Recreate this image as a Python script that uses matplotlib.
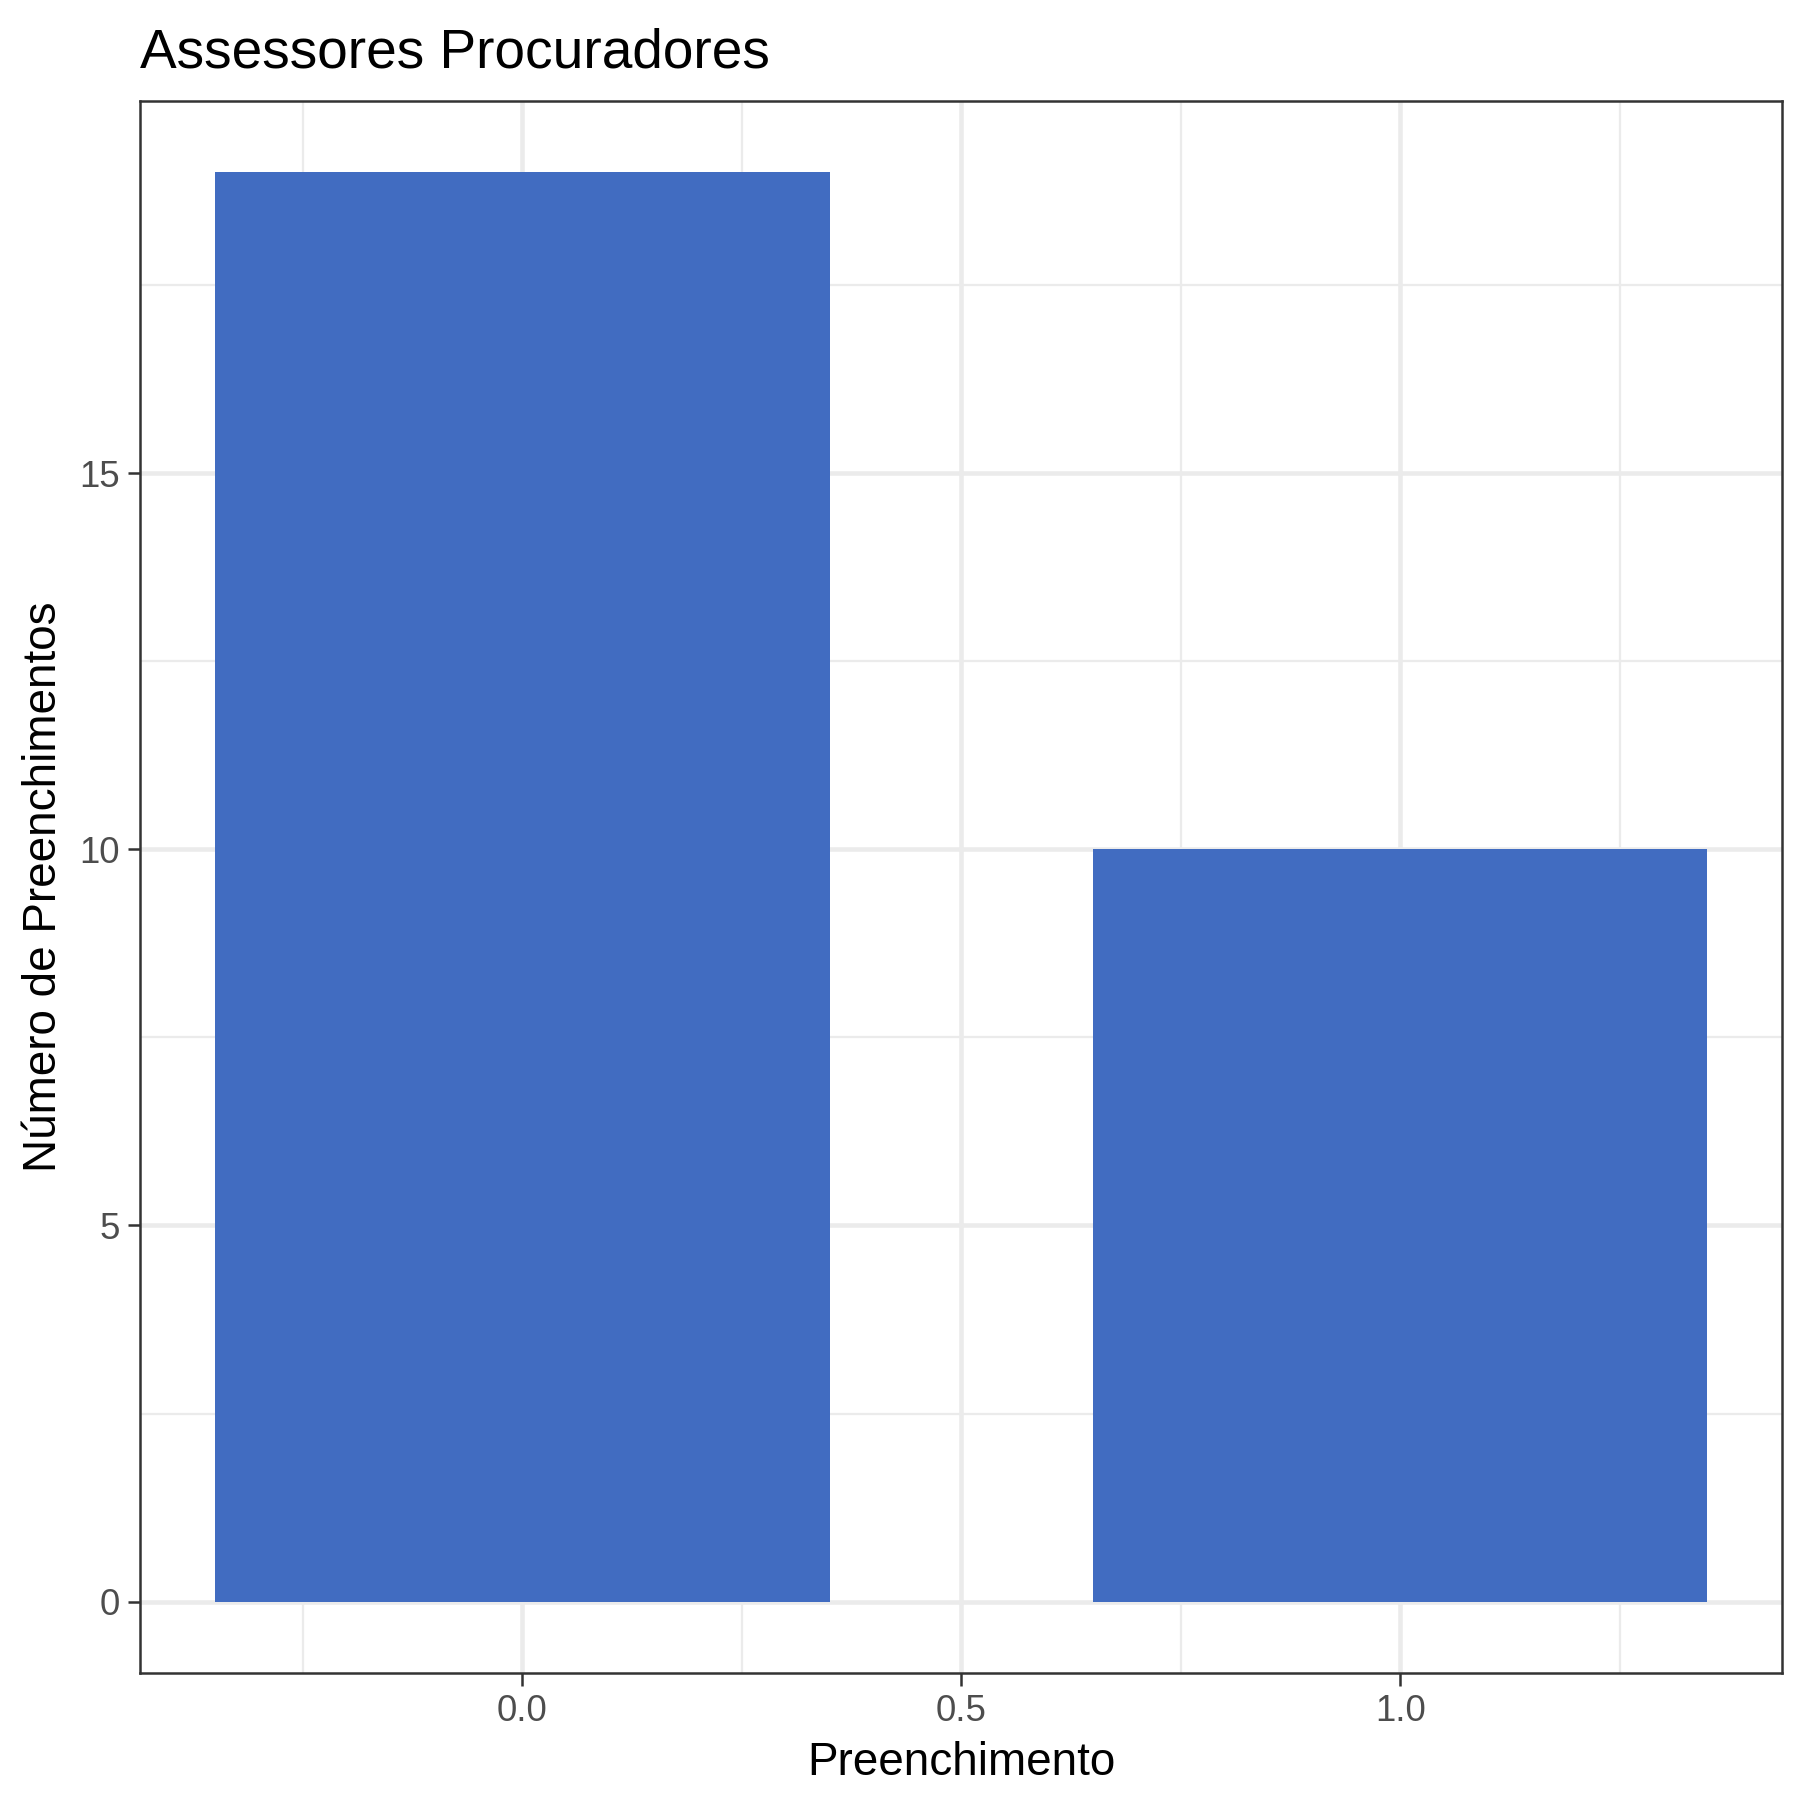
import matplotlib
matplotlib.use('Agg')
import matplotlib.pyplot as plt
import numpy as np

plt.rcParams['font.family'] = ['Liberation Sans', 'DejaVu Sans']

categories = [0, 1]
counts = [19, 10]
bar_color = '#416cc1'

fig = plt.figure(figsize=(6, 6), dpi=300)
ax = fig.add_axes([0.078, 0.0705, 0.912, 0.8735])

ax.set_axisbelow(True)
ax.bar(categories, counts, width=0.7, color=bar_color, zorder=2)

ax.set_xlim(-0.435, 1.435)
ax.set_ylim(-0.95, 19.95)
ax.set_xticks([0.0, 0.5, 1.0])
ax.set_xticklabels(['0.0', '0.5', '1.0'])
ax.set_yticks([0, 5, 10, 15])
ax.set_xticks([-0.25, 0.25, 0.75, 1.25], minor=True)
ax.set_yticks([2.5, 7.5, 12.5, 17.5], minor=True)
ax.grid(which='major', color='#ebebeb', linewidth=1.1)
ax.grid(which='minor', color='#ebebeb', linewidth=0.55)
ax.tick_params(which='major', length=3, width=0.6, color='#333333',
               labelsize=8.8, labelcolor='#4d4d4d', pad=2)
ax.tick_params(which='minor', length=0)
for s in ax.spines.values():
    s.set_color('#333333')
    s.set_linewidth(0.6)

ax.set_xlabel('Preenchimento', fontsize=11, labelpad=3)
ax.set_ylabel('Número de Preenchimentos', fontsize=11, labelpad=3)
ax.set_title('Assessores Procuradores', fontsize=13.2, loc='left', pad=8)

fig.savefig('out.png', dpi=300)
